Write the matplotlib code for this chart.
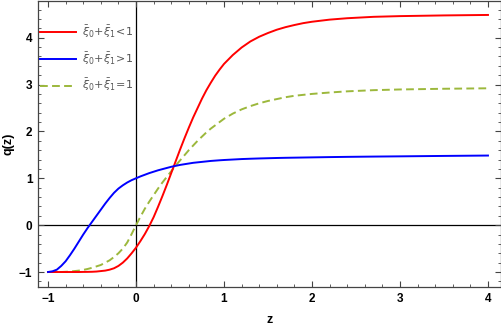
import matplotlib
matplotlib.use("Agg")
import matplotlib.pyplot as plt
from matplotlib.ticker import MultipleLocator

plt.rcParams['font.family'] = ['Liberation Sans', 'DejaVu Sans']
plt.rcParams['mathtext.fontset'] = 'dejavusans'

# values
z = [-1.0, -0.95, -0.9, -0.85, -0.8, -0.75, -0.7, -0.65, -0.6, -0.55,
     -0.5, -0.45, -0.4, -0.35, -0.3, -0.25, -0.2, -0.15, -0.1, -0.05,
     0.0, 0.05, 0.1, 0.15, 0.2, 0.25, 0.3, 0.35, 0.4, 0.45,
     0.5, 0.55, 0.6, 0.65, 0.7, 0.75, 0.8, 0.85, 0.9, 0.95,
     1.0, 1.1, 1.2, 1.3, 1.4, 1.5, 1.6, 1.7, 1.8, 1.9,
     2.0, 2.2, 2.4, 2.7, 3.0, 3.5, 4.0]

q_less = [-1.0, -1.0, -1.0, -1.0, -1.0, -1.0, -1.0, -1.0, -0.998, -0.997,
          -0.995, -0.99, -0.98, -0.97, -0.95, -0.92, -0.87, -0.8, -0.71, -0.6,
          -0.48, -0.34, -0.19, -0.02, 0.17, 0.39, 0.62, 0.86, 1.11, 1.36,
          1.61, 1.85, 2.08, 2.3, 2.5, 2.7, 2.88, 3.04, 3.19, 3.32,
          3.44, 3.63, 3.79, 3.92, 4.02, 4.1, 4.17, 4.225, 4.27, 4.31,
          4.34, 4.385, 4.415, 4.445, 4.46, 4.475, 4.485]

q_more = [-1.0, -0.985, -0.95, -0.87, -0.77, -0.64, -0.5, -0.35, -0.2, -0.06,
          0.07, 0.2, 0.33, 0.46, 0.58, 0.69, 0.78, 0.85, 0.91, 0.96,
          1.0, 1.04, 1.075, 1.11, 1.14, 1.17, 1.195, 1.22, 1.245, 1.265,
          1.285, 1.3, 1.315, 1.33, 1.34, 1.35, 1.36, 1.37, 1.377, 1.384,
          1.39, 1.4, 1.41, 1.417, 1.423, 1.428, 1.433, 1.437, 1.44, 1.443,
          1.446, 1.452, 1.457, 1.463, 1.468, 1.477, 1.485]

q_equal = [-1.0, -1.0, -1.0, -1.0, -0.995, -0.99, -0.98, -0.97, -0.955, -0.935,
           -0.91, -0.88, -0.85, -0.8, -0.75, -0.68, -0.6, -0.5, -0.37, -0.19,
           0.0, 0.18, 0.35, 0.5, 0.64, 0.78, 0.91, 1.03, 1.15, 1.27,
           1.38, 1.49, 1.6, 1.7, 1.8, 1.89, 1.98, 2.06, 2.13, 2.2,
           2.27, 2.38, 2.47, 2.54, 2.6, 2.65, 2.69, 2.73, 2.76, 2.78,
           2.8, 2.83, 2.855, 2.88, 2.895, 2.91, 2.92]

labels = [r'$\bar{\xi}_0\!+\!\bar{\xi}_1\!<\!1$',
          r'$\bar{\xi}_0\!+\!\bar{\xi}_1\!>\!1$',
          r'$\bar{\xi}_0\!+\!\bar{\xi}_1\!=\!1$']

fig = plt.figure(figsize=(5.02, 3.26), dpi=100)
ax = fig.add_axes([0.0757, 0.1196, 0.9223, 0.8784])

ax.axhline(0, color='black', lw=0.9, zorder=1)
ax.axvline(0, color='black', lw=0.9, zorder=1)

ax.plot(z, q_less, color='#ff0000', lw=1.4, label=labels[0], zorder=3)
ax.plot(z, q_more, color='#0000ff', lw=1.4, label=labels[1], zorder=3)
ax.plot(z, q_equal, color='#9cb83c', lw=1.4, ls=(0, (4, 2.2)), label=labels[2], zorder=2)

ax.set_xlim(-1.114, 4.148)
ax.set_ylim(-1.32, 4.79)

ax.xaxis.set_major_locator(MultipleLocator(1))
ax.xaxis.set_minor_locator(MultipleLocator(0.2))
ax.yaxis.set_major_locator(MultipleLocator(1))
ax.yaxis.set_minor_locator(MultipleLocator(0.2))
ax.tick_params(which='both', direction='in', top=True, right=True, color='#444444')
ax.tick_params(which='major', length=4, width=0.8, labelsize=8.5, pad=4)
ax.tick_params(which='minor', length=2, width=0.6)
for lab in ax.get_xticklabels() + ax.get_yticklabels():
    lab.set_fontweight('bold')
for s in ax.spines.values():
    s.set_color('#444444')
    s.set_linewidth(0.9)

ax.set_xlabel('z', fontsize=9, fontweight='bold', labelpad=7)
ax.set_ylabel('q(z)', fontsize=9, fontweight='bold', labelpad=3)

leg = ax.legend(loc='upper left', bbox_to_anchor=(-0.006, 0.935), frameon=False,
                fontsize=8, handlelength=3.3, handletextpad=0.55, labelspacing=0.95,
                borderaxespad=0)
for t in leg.get_texts():
    t.set_color('#555555')

fig.savefig('out.png', dpi=100)
